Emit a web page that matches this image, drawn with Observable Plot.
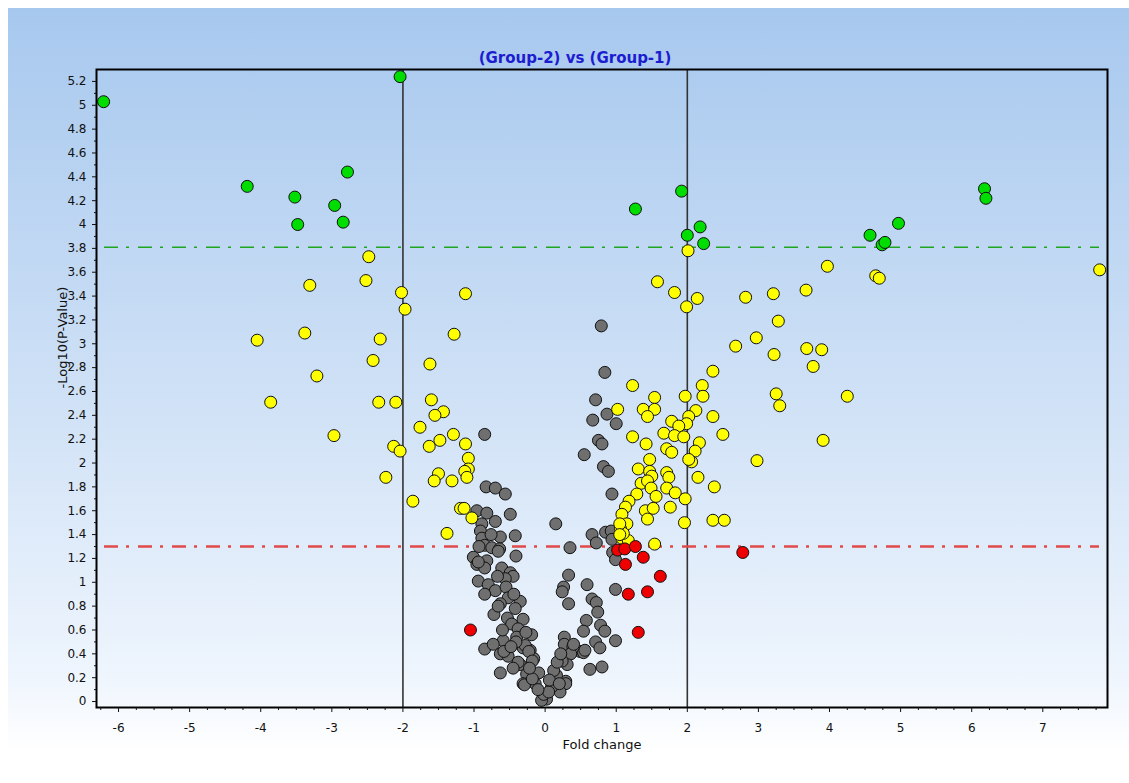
<!DOCTYPE html>
<html><head><meta charset="utf-8">
<script src="https://cdn.jsdelivr.net/npm/d3@7"></script>
<script src="https://cdn.jsdelivr.net/npm/@observablehq/plot@0.6"></script>
<style>
body{margin:0;background:#fff;}
#wrap{position:relative;width:1129px;height:783px;background:#fff;overflow:hidden;}
#bg{position:absolute;left:8px;top:8px;right:0;bottom:0;background:linear-gradient(to bottom,#a7c8ee 0%,#cfe1f6 50%,#eef5fd 86%,#ffffff 96%);}
#chart{position:absolute;left:0;top:0;}
</style></head><body>
<div id="wrap"><div id="bg"></div><div id="chart"></div></div>
<script>
const title = "(Group-2) vs (Group-1)";
const xLabel = "Fold change";
const yLabel = "-Log10(P-Value)";
const foldThresholds = [-2, 2];
const pThresholdGreen = 3.81;
const pThresholdRed = 1.30;
const xTicks = d3.range(-6, 8);
const xMinorTicks = d3.range(-25, 32).map(i => i / 4).filter(v => !Number.isInteger(v));
const yTicks = d3.range(0, 27).map(i => Math.round(i * 2) / 10);
const yMinorTicks = d3.range(0, 53).map(i => i / 10).filter(v => Math.abs(v * 5 - Math.round(v * 5)) > 1e-6);

const green = [[-6.21,5.03],[-2.04,5.24],[-4.19,4.32],[-3.52,4.23],[-3.48,4.00],[-2.96,4.16],[-2.84,4.02],[-2.78,4.44],
 [1.27,4.13],[1.92,4.28],[2.00,3.91],[2.18,3.98],[2.23,3.84],[4.57,3.91],[4.74,3.83],[4.78,3.85],[4.97,4.01],[6.18,4.30],[6.20,4.22]];

const yellow = [[-2.48,3.73],[-2.52,3.53],[-3.31,3.49],[-2.02,3.43],[-1.97,3.29],[-1.12,3.42],[-3.38,3.09],[-4.05,3.03],[-2.32,3.04],[-1.28,3.08],
 [-2.42,2.86],[-1.62,2.83],[-3.21,2.73],[-3.86,2.51],[-2.34,2.51],[-2.10,2.51],[-1.60,2.53],[-1.43,2.43],[-1.55,2.40],[-1.76,2.30],
 [-2.97,2.23],[-1.29,2.24],[-1.12,2.16],[-1.48,2.19],[-1.63,2.14],[-2.13,2.14],[-2.04,2.10],[-1.08,2.04],[-1.08,1.95],[-1.13,1.93],
 [-1.10,1.88],[-1.50,1.91],[-1.56,1.85],[-1.31,1.85],[-2.24,1.88],[-1.86,1.68],[-1.19,1.62],[-1.14,1.62],[-1.03,1.54],[-1.38,1.41],
 [2.01,3.78],[1.58,3.52],[1.82,3.43],[2.14,3.38],[2.82,3.39],[3.21,3.42],[3.67,3.45],[3.97,3.65],[4.65,3.57],[4.70,3.55],[7.80,3.62],
 [1.99,3.31],[3.28,3.19],[2.97,3.05],[2.68,2.98],[3.22,2.91],[3.68,2.96],[3.89,2.95],[3.77,2.81],[2.36,2.77],[2.21,2.65],[2.22,2.56],
 [3.25,2.58],[3.30,2.48],[4.25,2.56],[2.36,2.39],[2.50,2.24],[2.17,2.17],[3.91,2.19],[2.98,2.02],[2.15,1.88],[2.38,1.80],[2.36,1.52],[2.52,1.52],
 [1.23,2.65],[1.54,2.55],[1.97,2.56],[1.02,2.45],[1.38,2.45],[1.54,2.45],[1.44,2.39],[2.12,2.44],[2.02,2.39],[1.99,2.33],[1.78,2.35],
 [1.88,2.31],[1.67,2.25],[1.82,2.23],[1.95,2.22],[1.23,2.22],[1.42,2.16],[2.11,2.10],[2.06,2.01],[2.02,2.03],[1.71,2.12],[1.78,2.09],
 [1.47,2.03],[1.31,1.95],[1.47,1.93],[1.50,1.89],[1.71,1.92],[1.74,1.88],[1.35,1.83],[1.44,1.85],[1.49,1.79],[1.29,1.74],[1.56,1.72],
 [1.71,1.79],[1.83,1.75],[1.97,1.70],[1.18,1.68],[1.13,1.63],[1.08,1.57],[1.41,1.60],[1.52,1.62],[1.76,1.63],[1.44,1.53],[1.15,1.49],
 [1.06,1.45],[1.96,1.50],[1.08,1.37],[1.17,1.35],[1.54,1.32],[1.10,1.41],[1.05,1.49],[1.05,1.40]];

const red = [[1.02,1.27],[1.12,1.28],[1.27,1.30],[1.38,1.21],[1.13,1.15],[1.62,1.05],[1.17,0.90],[1.44,0.92],[1.31,0.58],[2.78,1.25],[-1.05,0.60]];

const grey = [[0.79,3.15],[0.84,2.76],[0.71,2.53],[0.87,2.41],[1.00,2.33],[0.67,2.36],[0.75,2.19],[0.80,2.16],[0.55,2.07],[0.82,1.97],
 [0.89,1.93],[0.94,1.74],[0.66,1.40],[0.72,1.33],[0.85,1.42],[0.93,1.43],[0.95,1.25],[0.99,1.19],[0.35,1.29],[0.15,1.49],
 [0.33,1.06],[0.26,0.96],[0.24,0.92],[0.59,0.98],[0.66,0.86],[0.72,0.83],[0.74,0.75],[0.99,0.94],[0.33,0.82],[0.58,0.68],
 [0.54,0.59],[0.78,0.64],[0.84,0.59],[0.71,0.50],[0.77,0.45],[0.99,0.51],[0.27,0.54],[0.27,0.48],[0.39,0.46],[0.49,0.42],
 [0.54,0.41],[0.36,0.40],[0.31,0.31],[0.24,0.34],[0.63,0.27],[0.80,0.29],[0.29,0.17],[0.29,0.15],[0.21,0.08],[0.94,1.36],
 [0.40,0.48],[0.56,0.43],[0.16,0.22],[0.12,0.26],[0.09,0.12],[0.02,0.02],[-0.05,0.01],[-0.02,0.06],[0.17,0.33],[0.05,0.08],[0.06,0.18],[0.20,0.15],[0.22,0.40],
 [-0.85,2.24],[-0.83,1.80],[-0.70,1.79],[-0.56,1.74],[-0.49,1.57],[-0.96,1.60],[-0.82,1.58],[-0.70,1.51],[-0.89,1.49],[-0.91,1.43],
 [-0.63,1.38],[-0.42,1.39],[-0.89,1.37],[-0.85,1.31],[-0.75,1.29],[-0.64,1.28],[-0.41,1.22],[-1.01,1.21],[-0.96,1.15],[-0.82,1.18],
 [-0.85,1.12],[-0.61,1.12],[-0.49,1.08],[-0.45,1.05],[-0.94,1.01],[-0.80,0.98],[-0.70,0.93],[-0.56,1.03],[-0.55,0.96],[-0.52,0.87],
 [-0.35,0.84],[-0.85,0.90],[-0.63,0.82],[-0.72,0.73],[-0.53,0.70],[-0.47,0.65],[-0.31,0.69],[-0.38,0.61],[-0.19,0.56],[-0.59,0.51],
 [-0.40,0.54],[-0.31,0.45],[-0.85,0.44],[-0.73,0.48],[-0.63,0.40],[-0.52,0.38],[-0.21,0.43],[-0.16,0.36],[-0.35,0.31],[-0.63,0.24],
 [-0.26,0.23],[-0.09,0.24],[-0.31,0.15],[-0.14,0.15],[-0.66,1.26],[-0.94,1.17],[-0.58,0.42],[-0.28,0.47],[-0.23,0.42],[-0.18,0.34],
 [-0.38,0.33],[-0.29,0.14],[-0.18,0.19],[-0.41,0.50],[-0.66,0.80],[-0.45,0.28],[-0.22,0.28],[-0.10,0.10],[-0.48,0.46],[-0.27,0.58],
 [-0.42,0.78],[-0.60,0.60],[-0.44,0.90],[-0.67,1.05],[-0.76,1.40],[-0.93,1.30]];

const groups = [
  {name: "grey", pts: grey, fill: "#6f6f6f"},
  {name: "yellow", pts: yellow, fill: "#ffff00"},
  {name: "red", pts: red, fill: "#ee0000"},
  {name: "green", pts: green, fill: "#00dd00"}
];

const fmt = d => String(d);

const plot = Plot.plot({
  width: 1129, height: 783,
  marginLeft: 96, marginRight: 22, marginTop: 69, marginBottom: 76,
  style: {background: "transparent", fontFamily: "DejaVu Sans", fontSize: "12px", color: "#111", overflow: "visible"},
  x: {domain: [-6.31, 7.91]},
  y: {domain: [-0.05, 5.3]},
  marks: [
    Plot.ruleX(foldThresholds, {stroke: "#333", strokeWidth: 1.6}),
    Plot.ruleY([pThresholdGreen], {stroke: "#1fa51f", strokeWidth: 1.6, strokeDasharray: "14,8,3,9", insetLeft: 8, insetRight: 8}),
    Plot.ruleY([pThresholdRed], {stroke: "#e04a4a", strokeWidth: 2.3, strokeDasharray: "14,8,3,9", insetLeft: 8, insetRight: 8}),
    ...groups.map(g => Plot.dot(g.pts, {x: d => d[0], y: d => d[1], r: 6, fill: g.fill, stroke: "#111", strokeWidth: 1, fillOpacity: 1})),
    Plot.frame({stroke: "#000", strokeWidth: 2}),
    Plot.axisX({ticks: xTicks, tickSize: 5, tickPadding: 11, tickFormat: fmt, label: null, fontSize: 12}),
    Plot.axisX({ticks: xMinorTicks, tickSize: 3, tickFormat: () => "", label: null}),
    Plot.axisY({ticks: yTicks, tickSize: 4, tickPadding: 6, tickFormat: fmt, label: null, fontSize: 12}),
    Plot.axisY({ticks: yMinorTicks, tickSize: 2, tickFormat: () => "", label: null}),
    Plot.text([title], {text: d => d, frameAnchor: "top", dy: -17, dx: -27, fontFamily: "DejaVu Sans", fontWeight: "bold", fontSize: 15, fill: "#1c1cd0"}),
    Plot.text([yLabel], {text: d => d, frameAnchor: "left", dx: -34, rotate: -90, fontSize: 13, fill: "#111"}),
    Plot.text([xLabel], {text: d => d, frameAnchor: "bottom", dy: 41, fontSize: 13, fill: "#111"})
  ]
});
document.getElementById("chart").appendChild(plot);
</script>
</body></html>
